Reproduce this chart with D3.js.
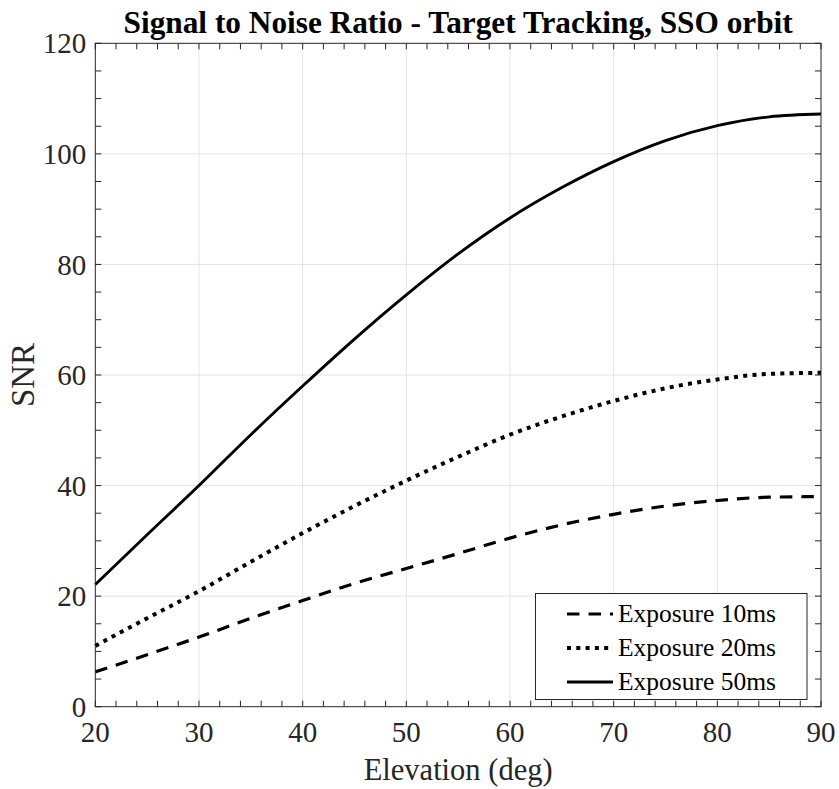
<!DOCTYPE html>
<html>
<head>
<meta charset="utf-8">
<script src="https://cdn.jsdelivr.net/npm/d3@7"></script>
<style>
  html, body { margin: 0; padding: 0; background: #fff; }
  svg { display: block; }
  text { font-family: "Liberation Serif", "Times New Roman", serif; }
</style>
</head>
<body>
<svg id="chart" width="839" height="789"></svg>
<script>
// ---- data ----
const elevation = [20, 25, 30, 35, 40, 45, 50, 55, 60, 65, 70, 75, 80, 85, 90];
const snr10ms = [6.3, 9.4, 12.6, 16.0, 19.2, 22.3, 25.0, 27.7, 30.5, 32.9, 34.8, 36.3, 37.3, 37.9, 38.0];
const snr20ms = [11.0, 16.0, 20.9, 26.2, 31.4, 36.3, 40.9, 45.2, 49.2, 52.5, 55.3, 57.6, 59.2, 60.2, 60.4];
const snr50ms = [22.1, 31.1, 40.0, 49.2, 58.0, 66.5, 74.5, 81.9, 88.4, 93.9, 98.6, 102.4, 105.1, 106.7, 107.2];
const seriesNames = ["Exposure 10ms", "Exposure 20ms", "Exposure 50ms"];
const xTicks = [20, 30, 40, 50, 60, 70, 80, 90];
const yTicks = [0, 20, 40, 60, 80, 100, 120];
const titleText = "Signal to Noise Ratio - Target Tracking, SSO orbit";
const xLabel = "Elevation (deg)";
const yLabel = "SNR";

// ---- layout ----
const svg = d3.select("#chart");
const margin = { left: 95.3, right: 839 - 821, top: 43.3, bottom: 789 - 706.7 };
const W = 839, H = 789;
const x = d3.scaleLinear().domain([20, 90]).range([margin.left, W - margin.right]);
const y = d3.scaleLinear().domain([0, 120]).range([H - margin.bottom, margin.top]);
const axisColor = "#262626";

// grid
const grid = svg.append("g");
grid.selectAll(".gx").data(xTicks.slice(1, -1)).join("line")
  .attr("x1", d => x(d)).attr("x2", d => x(d))
  .attr("y1", y(0)).attr("y2", y(120))
  .attr("stroke", "#e3e3e3").attr("stroke-width", 1);
grid.selectAll(".gy").data(yTicks.slice(1, -1)).join("line")
  .attr("x1", x(20)).attr("x2", x(90))
  .attr("y1", d => y(d)).attr("y2", d => y(d))
  .attr("stroke", "#e3e3e3").attr("stroke-width", 1);

// series
const series = [
  { name: seriesNames[0], values: snr10ms, dash: "12.5,9", width: 3.2 },
  { name: seriesNames[1], values: snr20ms, dash: "4,5.3", width: 4 },
  { name: seriesNames[2], values: snr50ms, dash: null, width: 2.9 }
];
const line = d3.line()
  .x((d, i) => x(elevation[i]))
  .y(d => y(d))
  .curve(d3.curveMonotoneX);
series.forEach(s => {
  svg.append("path")
    .attr("d", line(s.values))
    .attr("fill", "none")
    .attr("stroke", "#000")
    .attr("stroke-width", s.width)
    .attr("stroke-dasharray", s.dash)
    .attr("stroke-linecap", "butt");
});

// axes (box with inward ticks)
const tickLen = 6;
const xMinor = d3.range(20, 90.001, 2);
const yMinor = d3.range(0, 120.001, 5);
const axG = svg.append("g").attr("stroke", axisColor).attr("stroke-width", 1);
axG.append("rect")
  .attr("x", x(20)).attr("y", y(120))
  .attr("width", x(90) - x(20)).attr("height", y(0) - y(120))
  .attr("fill", "none");
xMinor.forEach(v => {
  axG.append("line").attr("x1", x(v)).attr("x2", x(v)).attr("y1", y(0)).attr("y2", y(0) - tickLen);
  axG.append("line").attr("x1", x(v)).attr("x2", x(v)).attr("y1", y(120)).attr("y2", y(120) + tickLen);
});
yMinor.forEach(v => {
  axG.append("line").attr("y1", y(v)).attr("y2", y(v)).attr("x1", x(20)).attr("x2", x(20) + tickLen);
  axG.append("line").attr("y1", y(v)).attr("y2", y(v)).attr("x1", x(90)).attr("x2", x(90) - tickLen);
});

// tick labels
svg.append("g").selectAll("text").data(xTicks).join("text")
  .attr("x", d => x(d)).attr("y", y(0) + 35)
  .attr("text-anchor", "middle")
  .attr("font-size", 29).attr("fill", axisColor)
  .text(d => d);
svg.append("g").selectAll("text").data(yTicks).join("text")
  .attr("x", x(20) - 9).attr("y", d => y(d))
  .attr("dy", "0.35em")
  .attr("text-anchor", "end")
  .attr("font-size", 29).attr("fill", axisColor)
  .text(d => d);

// axis labels
svg.append("text")
  .attr("x", (x(20) + x(90)) / 2).attr("y", 780)
  .attr("text-anchor", "middle")
  .attr("font-size", 30.5).attr("fill", axisColor)
  .text(xLabel);
svg.append("text")
  .attr("transform", `translate(34, ${(y(0) + y(120)) / 2}) rotate(-90)`)
  .attr("text-anchor", "middle")
  .attr("font-size", 33).attr("fill", axisColor)
  .text(yLabel);

// title
svg.append("text")
  .attr("x", (x(20) + x(90)) / 2).attr("y", 32.5)
  .attr("text-anchor", "middle")
  .attr("font-size", 31.3).attr("font-weight", "bold").attr("fill", "#000")
  .text(titleText);

// legend
const lg = svg.append("g");
lg.append("rect")
  .attr("x", 535.5).attr("y", 593.5).attr("width", 271.5).attr("height", 106)
  .attr("fill", "#fff").attr("stroke", axisColor).attr("stroke-width", 1);
const rowY = [614, 648, 682];
series.forEach((s, i) => {
  lg.append("line")
    .attr("x1", 567).attr("x2", 613)
    .attr("y1", rowY[i]).attr("y2", rowY[i])
    .attr("stroke", "#000").attr("stroke-width", s.width)
    .attr("stroke-dasharray", s.dash);
  lg.append("text")
    .attr("x", 618).attr("y", rowY[i]).attr("dy", "0.33em")
    .attr("font-size", 25.5).attr("fill", "#000")
    .text(s.name);
});
</script>
</body>
</html>
